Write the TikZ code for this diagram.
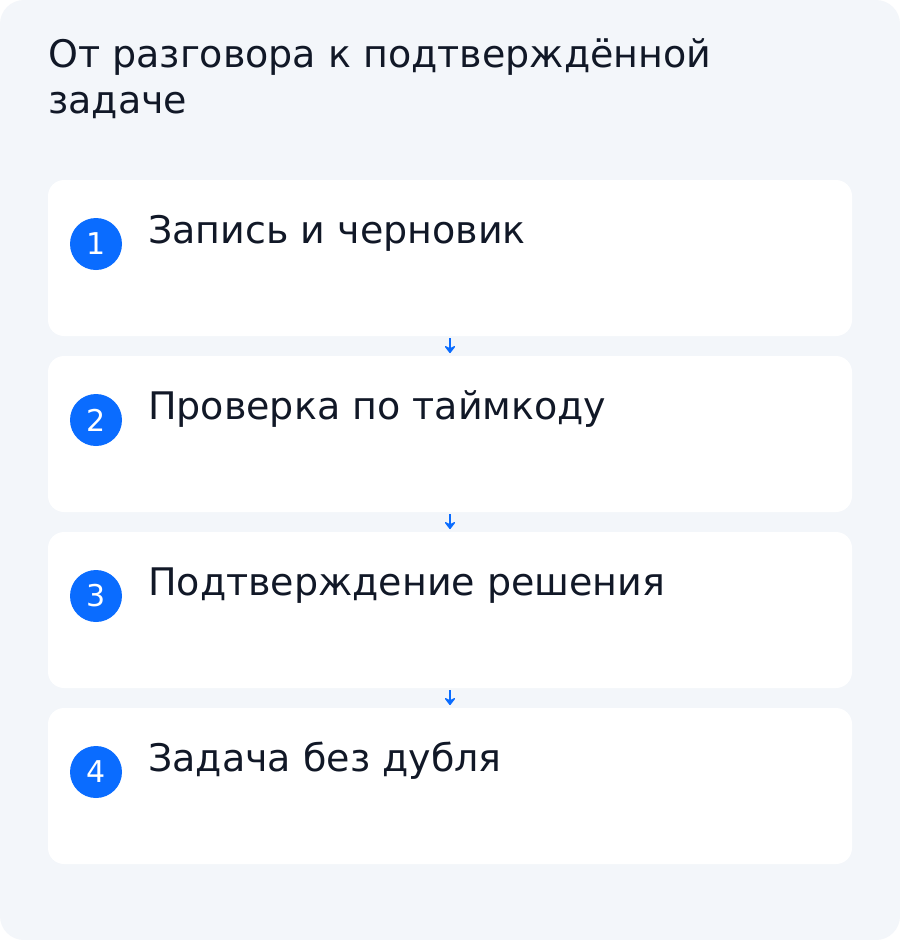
\documentclass[tikz,border=0pt]{standalone}
\usepackage{fontspec}
\setmainfont{DejaVu Sans}
\usetikzlibrary{arrows.meta}
\definecolor{bgpanel}{HTML}{F3F6FA}
\definecolor{accent}{HTML}{0A6CFF}
\definecolor{ink}{HTML}{111827}
\begin{document}
\begin{tikzpicture}[x=0.75pt,y=-0.75pt,
  card/.style={fill=white,draw=none,rounded corners=12pt,minimum width=603pt,minimum height=117pt,inner sep=0pt},
  badge/.style={circle,fill=accent,minimum size=39pt,inner sep=0pt,text=white,font=\fontsize{22.5}{26}\selectfont},
  steptext/.style={anchor=base west,text=ink,font=\fontsize{28.5}{34}\selectfont,inner sep=0pt},
  titletext/.style={anchor=base west,text=ink,font=\fontsize{28.5}{34}\selectfont,inner sep=0pt},
  flow/.style={draw=accent,line width=2pt,-{Stealth[length=6.5pt,width=10pt,inset=2.5pt,round]},shorten <=1.5pt,shorten >=2pt}]
\useasboundingbox (0,0) rectangle (900,940);
\fill[white] (0,0) rectangle (900,940);
\fill[bgpanel,rounded corners=18pt] (0,0) rectangle (900,940);
\node[titletext] (t1) at (48,67) {От разговора к подтверждённой};
\node[titletext] (t2) at (48,113) {задаче};
\foreach \i/\y/\txt in {1/258/Запись и черновик,2/434/Проверка по таймкоду,3/610/Подтверждение решения,4/786/Задача без дубля}{
  \node[card] (c\i) at (450,\y) {};
  \node[badge] (b\i) at (96,\y-14) {\i};
  \node[steptext] (s\i) at (148,\y-15) {\txt};
}
\draw[flow] (c1.south) -- (c2.north);
\draw[flow] (c2.south) -- (c3.north);
\draw[flow] (c3.south) -- (c4.north);
\end{tikzpicture}
\end{document}
